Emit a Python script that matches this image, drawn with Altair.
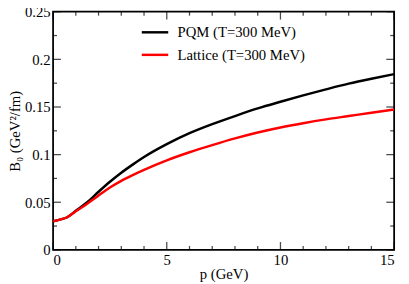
import altair as alt
import pandas as pd

p = [0, 0.3, 0.6, 1.0, 1.5, 2.0, 2.5, 3.0, 3.5, 4.0, 5.0, 6.0, 7.0, 8.0, 9.0, 10.0, 11.0, 12.0, 13.0, 14.0, 15.0]
pqm = [0.030, 0.0318, 0.034, 0.041, 0.050, 0.061, 0.0715, 0.081, 0.0895, 0.0975, 0.111, 0.1225, 0.132, 0.1405, 0.1485, 0.1555, 0.1622, 0.1685, 0.1745, 0.1797, 0.1845]
lattice = [0.030, 0.0318, 0.034, 0.0405, 0.0485, 0.057, 0.0655, 0.0725, 0.0785, 0.084, 0.094, 0.1025, 0.110, 0.117, 0.1232, 0.1285, 0.133, 0.137, 0.1405, 0.144, 0.1473]
series_names = ["PQM (T=300 MeV)", "Lattice (T=300 MeV)"]
series_colors = ["black", "#ff0000"]

x_major = [0, 5, 10, 15]
x_minor = [1, 2, 3, 4, 6, 7, 8, 9, 11, 12, 13, 14]
y_major = [0, 0.05, 0.1, 0.15, 0.2, 0.25]
y_minor = [0.025, 0.075, 0.125, 0.175, 0.225]

W, H = 348, 243
FONT = "Liberation Serif"

rows = []
for name, vals in zip(series_names, [pqm, lattice]):
    for pi, vi in zip(p, vals):
        rows.append({"p": pi, "B": vi, "series": name})
df = pd.DataFrame(rows)

xscale = alt.Scale(domain=[0, 15], nice=False, zero=False)
yscale = alt.Scale(domain=[0, 0.25], nice=False)
xaxis = alt.Axis(values=x_major, ticks=False, domain=False, grid=False, title="p (GeV)",
                 labelPadding=3, titlePadding=-1, format="~g")
yaxis = alt.Axis(values=y_major, ticks=False, domain=False, grid=False, title="B₀ (GeV²/fm)",
                 labelPadding=3, titlePadding=2, format="~g")

lines = alt.Chart(df).mark_line(strokeWidth=2.5, clip=True, interpolate="monotone").encode(
    x=alt.X("p:Q", scale=xscale, axis=xaxis),
    y=alt.Y("B:Q", scale=yscale, axis=yaxis),
    color=alt.Color("series:N", scale=alt.Scale(domain=series_names, range=series_colors),
                    sort=series_names,
                    legend=alt.Legend(title=None, orient="none", legendX=89, legendY=6,
                                      symbolType="stroke", symbolSize=729, symbolStrokeWidth=2.5,
                                      labelFont=FONT, labelFontSize=15, labelOffset=8,
                                      labelColor="black",
                                      rowPadding=-5, padding=0)),
)

def xticks(vals, length):
    d = pd.DataFrame({"v": vals})
    bottom = alt.Chart(d).mark_tick(orient="vertical", size=length, thickness=1.3,
                                    color="black", yOffset=-length / 2).encode(
        x=alt.X("v:Q", scale=xscale, axis=xaxis), y=alt.value(H))
    top = alt.Chart(d).mark_tick(orient="vertical", size=length, thickness=1.3,
                                 color="black", yOffset=length / 2).encode(
        x=alt.X("v:Q", scale=xscale, axis=xaxis), y=alt.value(0))
    return [bottom, top]

def yticks(vals, length):
    d = pd.DataFrame({"v": vals})
    left = alt.Chart(d).mark_tick(orient="horizontal", size=length, thickness=1.3,
                                  color="black", xOffset=length / 2).encode(
        y=alt.Y("v:Q", scale=yscale, axis=yaxis), x=alt.value(0))
    right = alt.Chart(d).mark_tick(orient="horizontal", size=length, thickness=1.3,
                                   color="black", xOffset=-length / 2).encode(
        y=alt.Y("v:Q", scale=yscale, axis=yaxis), x=alt.value(W))
    return [left, right]

layers = [lines] + xticks(x_major, 8) + xticks(x_minor, 4) + yticks(y_major, 8) + yticks(y_minor, 4)

chart = alt.layer(*layers).properties(
    width=W, height=H,
    autosize=alt.AutoSizeParams(type="none"),
    padding={"left": 46, "top": 1, "right": 7, "bottom": 32},
).configure(background="white").configure_view(stroke="black", strokeWidth=1.8).configure_axis(
    labelFont=FONT, labelFontSize=15, labelColor="black",
    titleFont=FONT, titleFontSize=15, titleFontWeight="normal", titleColor="black",
)

chart.save("out.html", embed_options={"renderer": "svg", "actions": False})
